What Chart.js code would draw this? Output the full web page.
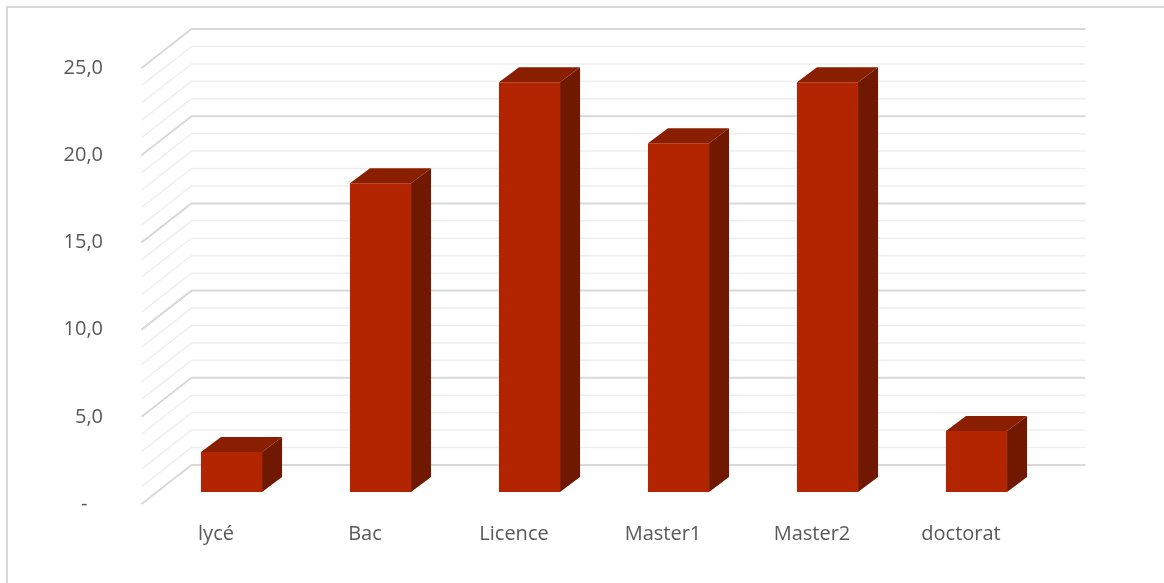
<!DOCTYPE html>
<html>
<head>
<meta charset="utf-8">
<title>Niveau d'études</title>
<script src="https://cdn.jsdelivr.net/npm/chart.js@4.4.1/dist/chart.umd.min.js"></script>
<style>
  html, body { margin: 0; padding: 0; background: #fff; }
  canvas { display: block; }
</style>
</head>
<body>
<canvas id="chart" width="1164" height="583"></canvas>
<script>
// ── Data ────────────────────────────────────────────────────
const categories = ['lycé', 'Bac', 'Licence', 'Master1', 'Master2', 'doctorat'];
const values     = [2.3, 17.7, 23.5, 20.0, 23.5, 3.5];
const yTicks     = [0, 5, 10, 15, 20, 25];

// ── Look ────────────────────────────────────────────────────
const FONT       = "'Open Sans', 'Noto Sans', sans-serif";
const TEXT       = '#595959';
const FRONT      = 'rgb(179,37,0)';
const TOP        = 'rgb(138,30,0)';
const SIDE       = 'rgb(113,25,0)';
const GRID_MAJOR = '#d9d9d9';
const GRID_MINOR = '#eeeeee';

// oblique projection offsets, relative to the plane of the bar fronts
const WALL_FRONT = { dx: -15.5, dy: 12 };
const WALL_BACK  = { dx: 34.5, dy: -27 };
const BAR_DEPTH  = { dx: 20, dy: -15 };

const fmtTick = (v) => (v === 0 ? '-   ' : v.toFixed(1).replace('.', ','));

// ── Walls: back + side gridlines, outer frame ───────────────
const walls = {
  id: 'walls',
  beforeDatasetsDraw(chart) {
    const { ctx, chartArea: a, scales: { y } } = chart;
    ctx.save();
    // frame
    ctx.strokeStyle = GRID_MAJOR;
    ctx.lineWidth = 2;
    ctx.strokeRect(7, 7, chart.width + 10, chart.height + 10);

    for (let v = y.min; v <= y.max; v += 1) {
      const py = y.getPixelForValue(v);
      const major = v % 5 === 0;
      ctx.strokeStyle = major ? GRID_MAJOR : GRID_MINOR;
      ctx.lineWidth = major ? 2 : 1.5;
      ctx.beginPath();
      ctx.moveTo(a.left + WALL_FRONT.dx, py + WALL_FRONT.dy);
      ctx.lineTo(a.left + WALL_BACK.dx, py + WALL_BACK.dy);
      ctx.lineTo(a.right + WALL_BACK.dx, py + WALL_BACK.dy);
      ctx.stroke();
    }
    ctx.restore();
  },
};

// ── Bars: top and side faces ────────────────────────────────
const bars3d = {
  id: 'bars3d',
  afterDatasetsDraw(chart) {
    const { ctx } = chart;
    const { dx, dy } = BAR_DEPTH;
    chart.getDatasetMeta(0).data.forEach((bar) => {
      const { x, y, width, base } = bar.getProps(['x', 'y', 'width', 'base'], true);
      const l = x - width / 2;
      const r = x + width / 2;
      ctx.save();
      ctx.fillStyle = TOP;
      ctx.beginPath();
      ctx.moveTo(l, y);
      ctx.lineTo(r, y);
      ctx.lineTo(r + dx, y + dy);
      ctx.lineTo(l + dx, y + dy);
      ctx.closePath();
      ctx.fill();

      ctx.fillStyle = SIDE;
      ctx.beginPath();
      ctx.moveTo(r, y);
      ctx.lineTo(r + dx, y + dy);
      ctx.lineTo(r + dx, base + dy);
      ctx.lineTo(r, base);
      ctx.closePath();
      ctx.fill();
      ctx.restore();
    });
  },
};

// ── Chart ───────────────────────────────────────────────────
new Chart(document.getElementById('chart'), {
  type: 'bar',
  data: {
    labels: categories,
    datasets: [{
      data: values,
      backgroundColor: FRONT,
      borderWidth: 0,
      barPercentage: 0.41,
      categoryPercentage: 1,
    }],
  },
  options: {
    responsive: false,
    animation: false,
    layout: { padding: { top: 56, right: 113, left: 0, bottom: 0 } },
    plugins: { legend: { display: false }, tooltip: { enabled: false } },
    scales: {
      x: {
        grid: { display: false, drawTicks: false },
        border: { display: false },
        afterFit: (s) => {
          s.height = 91;
          s.paddingLeft = 0;
          s.paddingRight = 0;
        },
        ticks: {
          color: TEXT,
          font: { family: FONT, size: 20 },
          padding: 30,
          labelOffset: WALL_FRONT.dx,
          maxRotation: 0,
        },
      },
      y: {
        min: 0,
        max: 25,
        grid: { display: false, drawTicks: false },
        border: { display: false },
        afterFit: (s) => {
          s.width = 157;
          s.paddingTop = 0;
          s.paddingBottom = 0;
        },
        afterBuildTicks: (s) => { s.ticks = yTicks.map((v) => ({ value: v })); },
        ticks: {
          color: TEXT,
          font: { family: FONT, size: 20 },
          padding: 54,
          labelOffset: WALL_FRONT.dy,
          callback: fmtTick,
        },
      },
    },
  },
  plugins: [walls, bars3d],
});
</script>
</body>
</html>
